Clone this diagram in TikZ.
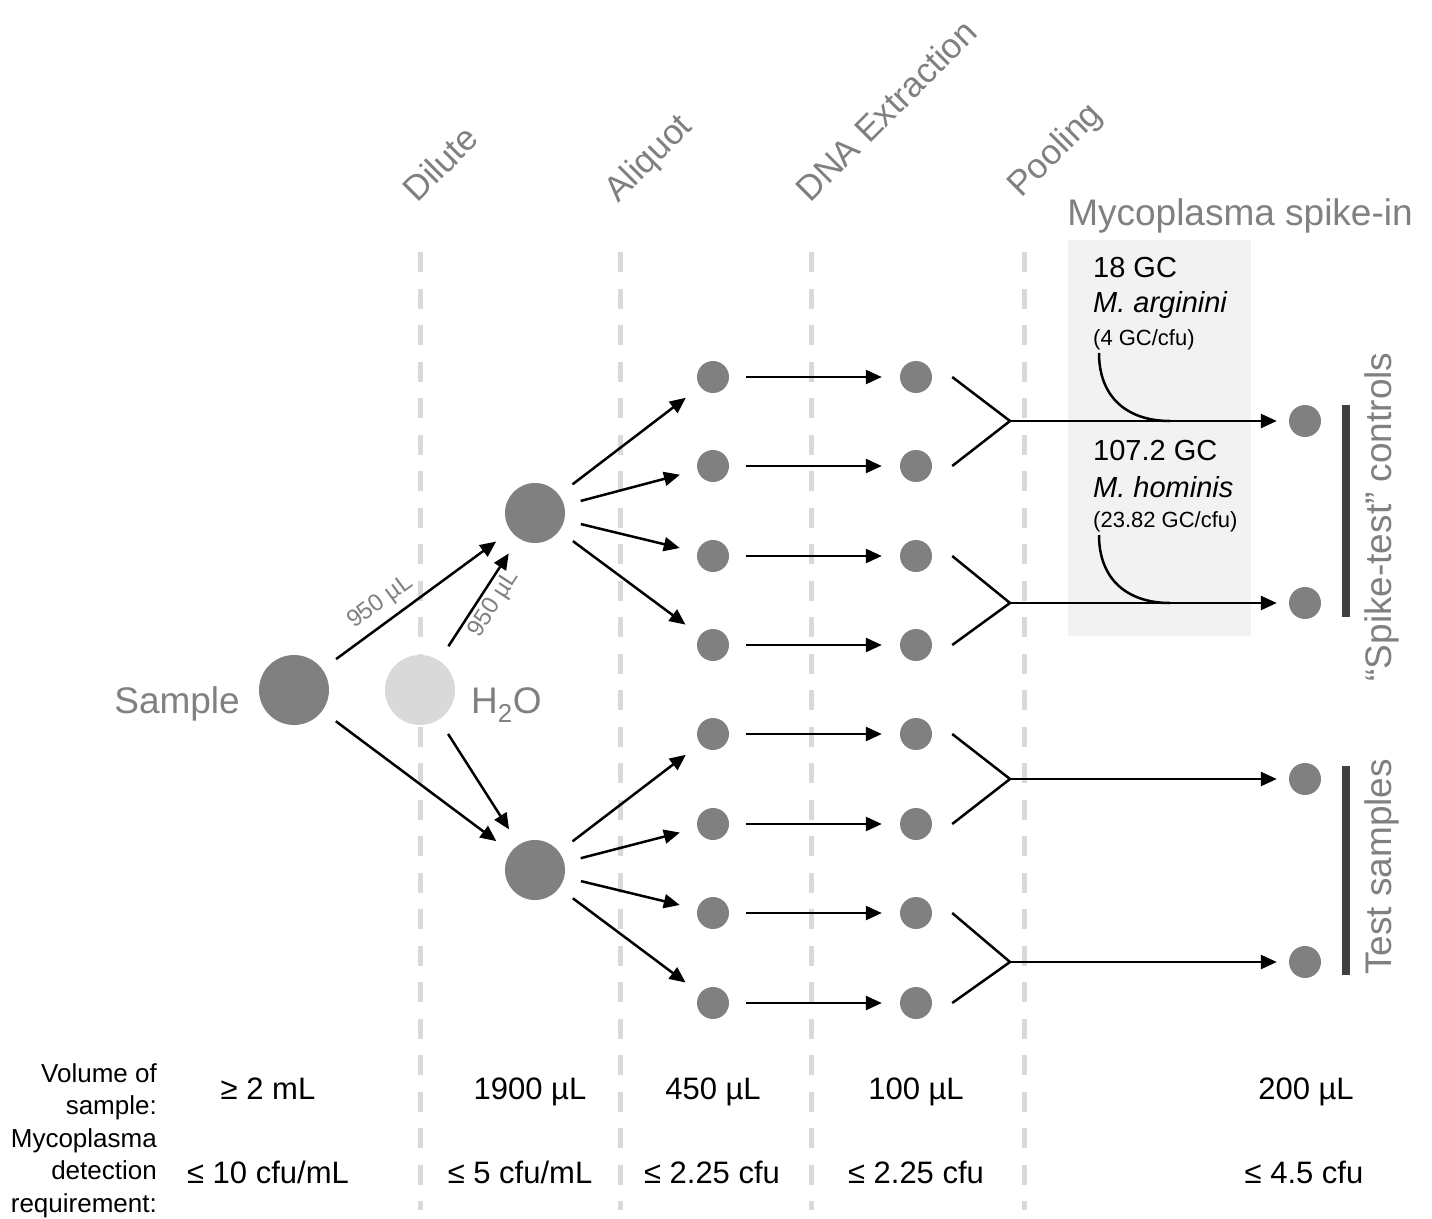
\documentclass[tikz,border=0pt]{standalone}
\usepackage{fontspec}
\setmainfont{Liberation Sans}
\usepackage{tikz}
\usetikzlibrary{arrows.meta,positioning}
\usepackage{xcolor}
\definecolor{dotgray}{RGB}{128,128,128}
\definecolor{watergray}{RGB}{217,217,217}
\definecolor{txtgray}{RGB}{128,128,128}
\definecolor{boxgray}{RGB}{242,242,242}
\definecolor{bargray}{RGB}{64,64,64}
\tikzstyle{arrow} = [line width=2.5pt, -{Triangle[length=16pt,width=14pt]}, shorten <=17pt, shorten >=18pt]
\tikzstyle{pool} = [line width=2.5pt]
\tikzstyle{stageline} = [draw=watergray, line width=5pt, dash pattern=on 20pt off 16.5pt]
\tikzstyle{bigdot} = [circle, fill=dotgray, minimum size=70pt, inner sep=0pt]
\tikzstyle{waterdot} = [circle, fill=watergray, minimum size=70pt, inner sep=0pt]
\tikzstyle{middot} = [circle, fill=dotgray, minimum size=60pt, inner sep=0pt]
\tikzstyle{smalldot} = [circle, fill=dotgray, minimum size=32pt, inner sep=0pt]
\tikzstyle{stagelabel} = [rotate=45, anchor=base west, text=txtgray, inner sep=0pt, font=\fontsize{35}{38}\selectfont]
\tikzstyle{sidelabel} = [text=txtgray, inner sep=0pt, font=\fontsize{37}{40}\selectfont]
\tikzstyle{volume} = [text=txtgray, font=\fontsize{24}{26}\selectfont]
\tikzstyle{spiketext} = [anchor=base west, inner sep=0pt, font=\fontsize{29}{32}\selectfont]
\tikzstyle{spikesmall} = [anchor=base west, inner sep=0pt, font=\fontsize{22}{24}\selectfont]
\tikzstyle{value} = [anchor=base, inner sep=0pt, font=\fontsize{31}{34}\selectfont]
\tikzstyle{rowlabel} = [anchor=east, align=right, inner sep=0pt, font=\fontsize{26}{32.5}\selectfont]
\tikzstyle{bar} = [draw=bargray, line width=8pt]

\begin{document}
\begin{tikzpicture}[x=1pt, y=-1pt]
\useasboundingbox (0,0) rectangle (1432,1218);

% Stage separators
\draw[stageline] (420,252) -- (420,1210);
\draw[stageline] (620,252) -- (620,1210);
\draw[stageline] (811,252) -- (811,1210);
\draw[stageline] (1024,252) -- (1024,1210);

\node[stagelabel] (dilute) at (417,204) {Dilute};
\node[stagelabel] (aliquot) at (618,204) {Aliquot};
\node[stagelabel] (extract) at (810,204) {DNA Extraction};
\node[stagelabel] (pooling) at (1021,199) {Pooling};

% Spike-in box
\node[fill=boxgray, minimum width=183pt, minimum height=396pt, inner sep=0pt] (spikebox) at (1159.5,438) {};
\node[sidelabel, anchor=base] (spikehead) at (1240,225) {Mycoplasma spike-in};

% Sample and water
\node[bigdot] (sample) at (294,690) {};
\node[waterdot] (water) at (420,690) {};
\node[sidelabel, anchor=base east] (samplelbl) at (240,713) {Sample};
\node[sidelabel, anchor=base west] (waterlbl) at (471,713) {H\textsubscript{2}O};

% Dilutions
\node[middot] (upper) at (535,513) {};
\node[middot] (lower) at (535,870) {};

\draw[arrow] (sample) -- node[volume, sloped, above=4pt, pos=0.37] {950 µL} (upper);
\draw[arrow] (water) -- node[volume, sloped, below, pos=0.53] {950 µL} (upper);
\draw[arrow] (sample) -- (lower);
\draw[arrow] (water) -- (lower);

% Aliquots
\node[smalldot] (a1) at (713,377) {};
\node[smalldot] (a2) at (713,466) {};
\node[smalldot] (a3) at (713,556) {};
\node[smalldot] (a4) at (713,645) {};
\node[smalldot] (a5) at (713,734) {};
\node[smalldot] (a6) at (713,824) {};
\node[smalldot] (a7) at (713,913) {};
\node[smalldot] (a8) at (713,1003) {};

\draw[arrow] (upper) -- (a1);
\draw[arrow] (upper) -- (a2);
\draw[arrow] (upper) -- (a3);
\draw[arrow] (upper) -- (a4);
\draw[arrow] (lower) -- (a5);
\draw[arrow] (lower) -- (a6);
\draw[arrow] (lower) -- (a7);
\draw[arrow] (lower) -- (a8);

% Extracts
\node[smalldot] (e1) at (916,377) {};
\node[smalldot] (e2) at (916,466) {};
\node[smalldot] (e3) at (916,556) {};
\node[smalldot] (e4) at (916,645) {};
\node[smalldot] (e5) at (916,734) {};
\node[smalldot] (e6) at (916,824) {};
\node[smalldot] (e7) at (916,913) {};
\node[smalldot] (e8) at (916,1003) {};

\draw[arrow] (a1) -- (e1);
\draw[arrow] (a2) -- (e2);
\draw[arrow] (a3) -- (e3);
\draw[arrow] (a4) -- (e4);
\draw[arrow] (a5) -- (e5);
\draw[arrow] (a6) -- (e6);
\draw[arrow] (a7) -- (e7);
\draw[arrow] (a8) -- (e8);

% Pools
\node[smalldot] (f1) at (1305,421) {};
\node[smalldot] (f2) at (1305,603) {};
\node[smalldot] (f3) at (1305,779) {};
\node[smalldot] (f4) at (1305,962) {};

\coordinate (p1) at (1010,421);
\coordinate (p2) at (1010,603);
\coordinate (p3) at (1010,779);
\coordinate (p4) at (1010,962);

\draw[pool] ([xshift=20pt]e1.east) -- (p1) -- ([xshift=20pt]e2.east);
\draw[pool] ([xshift=20pt]e3.east) -- (p2) -- ([xshift=20pt]e4.east);
\draw[pool] ([xshift=20pt]e5.east) -- (p3) -- ([xshift=20pt]e6.east);
\draw[pool] ([xshift=20pt]e7.east) -- (p4) -- ([xshift=20pt]e8.east);

\draw[arrow, shorten <=0pt, shorten >=12pt] (p1) -- (f1);
\draw[arrow, shorten <=0pt, shorten >=12pt] (p2) -- (f2);
\draw[arrow, shorten <=0pt, shorten >=12pt] (p3) -- (f3);
\draw[arrow, shorten <=0pt, shorten >=12pt] (p4) -- (f4);

% Spike-ins
\node[spiketext] (gca) at (1093,277) {18 GC};
\node[spiketext] (arg) at (1093,312) {\textit{M. arginini}};
\node[spikesmall] (cfua) at (1093,345) {(4 GC/cfu)};
\node[spiketext] (gcb) at (1093,460) {107.2 GC};
\node[spiketext] (hom) at (1093,497) {\textit{M. hominis}};
\node[spikesmall] (cfub) at (1093,527) {(23.82 GC/cfu)};

\coordinate (sa) at (1099,353);
\coordinate (sb) at (1099,535);
\draw[pool] (sa) .. controls (1099,398) and (1128,421) .. (1170,421);
\draw[pool] (sb) .. controls (1099,580) and (1128,603) .. (1170,603);

% Groups
\draw[bar] (1346,405) -- (1346,617);
\draw[bar] (1346,766) -- (1346,975);
\node[sidelabel, rotate=90] (controls) at (1382,517) {“Spike-test” controls};
\node[sidelabel, rotate=90] (tests) at (1382,867) {Test samples};

% Volumes and requirements
\node[rowlabel] (vollbl) at (157,1092) {Volume of\\sample:};
\node[rowlabel] (reqlbl) at (157,1173) {Mycoplasma\\detection\\requirement:};

\node[value] (v1) at (268,1099) {≥ 2 mL};
\node[value] (v2) at (530,1099) {1900 µL};
\node[value] (v3) at (713,1099) {450 µL};
\node[value] (v4) at (916,1099) {100 µL};
\node[value] (v5) at (1306,1099) {200 µL};

\node[value] (r1) at (268,1183) {≤ 10 cfu/mL};
\node[value] (r2) at (520,1183) {≤ 5 cfu/mL};
\node[value] (r3) at (712,1183) {≤ 2.25 cfu};
\node[value] (r4) at (916,1183) {≤ 2.25 cfu};
\node[value] (r5) at (1304,1183) {≤ 4.5 cfu};
\end{tikzpicture}
\end{document}
